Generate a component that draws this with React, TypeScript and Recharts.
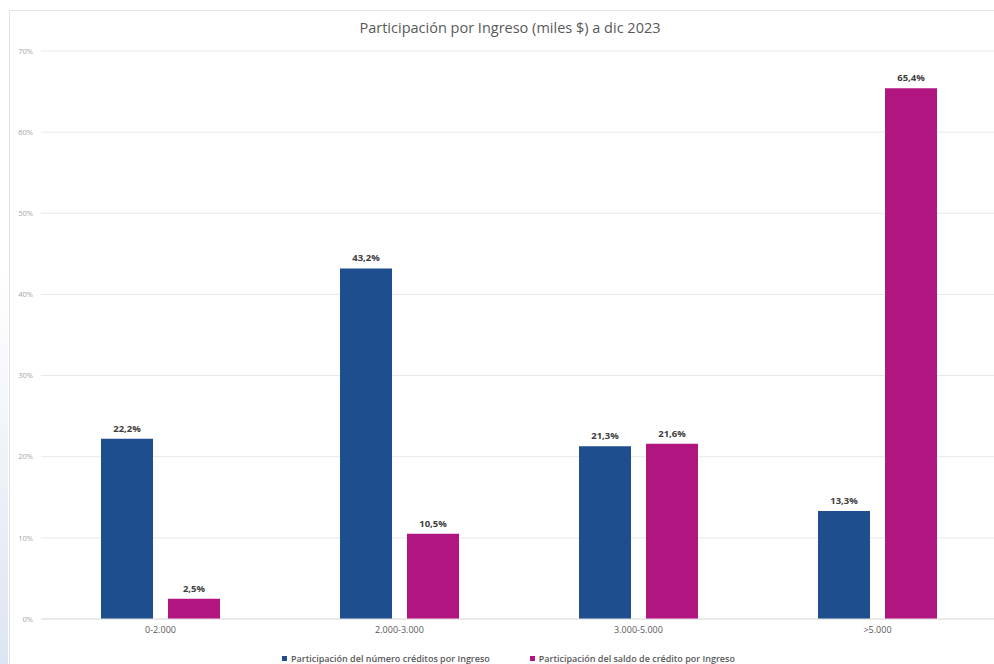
import { Bar, BarChart, CartesianGrid, LabelList, Legend, XAxis, YAxis } from "recharts";

const categories = ["0-2.000", "2.000-3.000", "3.000-5.000", ">5.000"];
const numeroCreditos = [22.2, 43.2, 21.3, 13.3];
const saldoCredito = [2.5, 10.5, 21.6, 65.4];
const yTicks = [0, 10, 20, 30, 40, 50, 60, 70];

const SERIES_NUMERO = "Participación del número créditos por Ingreso";
const SERIES_SALDO = "Participación del saldo de crédito por Ingreso";

const BLUE = "#1f4e8f";
const MAGENTA = "#b1157f";

const rows = categories.map((name, i) => ({
  name,
  numero: numeroCreditos[i],
  saldo: saldoCredito[i]
}));

const pct = (v: unknown) => `${Number(v).toFixed(1).replace(".", ",")}%`;

function LegendContent() {
  const items = [
    { label: SERIES_NUMERO, color: BLUE },
    { label: SERIES_SALDO, color: MAGENTA }
  ];
  return (
    <div
      style={{
        display: "flex",
        justifyContent: "center",
        gap: 40,
        paddingLeft: 20,
        paddingTop: 6,
        fontSize: 9,
        fontWeight: 600,
        color: "#595959",
        fontFamily: "'Open Sans', sans-serif"
      }}
    >
      {items.map((it) => (
        <span key={it.label} style={{ display: "flex", alignItems: "center", gap: 4 }}>
          <span style={{ width: 5, height: 5, background: it.color, display: "inline-block" }} />
          {it.label}
        </span>
      ))}
    </div>
  );
}

export default function App() {
  return (
    <div
      style={{
        position: "fixed",
        left: 0,
        top: 0,
        width: 994,
        height: 664,
        overflow: "hidden",
        background: "#ffffff",
        fontFamily: "'Open Sans', sans-serif"
      }}
    >
      {/* faint bluish strip down the left edge */}
      <div
        style={{
          position: "absolute",
          left: 0,
          top: 0,
          width: 8,
          height: 664,
          background: "linear-gradient(to bottom, #ffffff 0%, #ffffff 40%, #dde5f2 100%)"
        }}
      />
      <div
        style={{
          position: "absolute",
          left: 9,
          top: 10,
          width: 1000,
          height: 700,
          borderLeft: "1px solid #e4e4e4",
          borderTop: "1px solid #e4e4e4"
        }}
      />
      <div
        style={{
          position: "absolute",
          top: 18,
          left: 0,
          width: 1020,
          textAlign: "center",
          fontSize: 14.5,
          color: "#595959"
        }}
      >
        Participación por Ingreso (miles $) a dic 2023
      </div>
      <div style={{ position: "absolute", left: 0, top: 0 }}>
        <BarChart
          width={1000}
          height={664}
          data={rows}
          margin={{ top: 51, right: 3, bottom: 0, left: 0 }}
          barCategoryGap={60}
          barGap={15}
        >
          <CartesianGrid vertical={false} stroke="#e8e8e8" />
          <XAxis
            dataKey="name"
            tickLine={false}
            axisLine={{ stroke: "#e0e0e0" }}
            tick={{ fill: "#595959", fontSize: 9 }}
            height={27}
          />
          <YAxis
            width={41}
            domain={[0, 70]}
            ticks={yTicks}
            tickFormatter={(v) => `${v}%`}
            tickLine={false}
            axisLine={false}
            tick={{ fill: "#a6a6a6", fontSize: 7.5 }}
          />
          <Legend verticalAlign="bottom" height={18} content={<LegendContent />} />
          <Bar dataKey="numero" name={SERIES_NUMERO} fill={BLUE} isAnimationActive={false}>
            <LabelList
              dataKey="numero"
              position="top"
              offset={7}
              formatter={pct}
              style={{ fontSize: 9.5, fontWeight: 700, fill: "#404040" }}
            />
          </Bar>
          <Bar dataKey="saldo" name={SERIES_SALDO} fill={MAGENTA} isAnimationActive={false}>
            <LabelList
              dataKey="saldo"
              position="top"
              offset={7}
              formatter={pct}
              style={{ fontSize: 9.5, fontWeight: 700, fill: "#404040" }}
            />
          </Bar>
        </BarChart>
      </div>
    </div>
  );
}
